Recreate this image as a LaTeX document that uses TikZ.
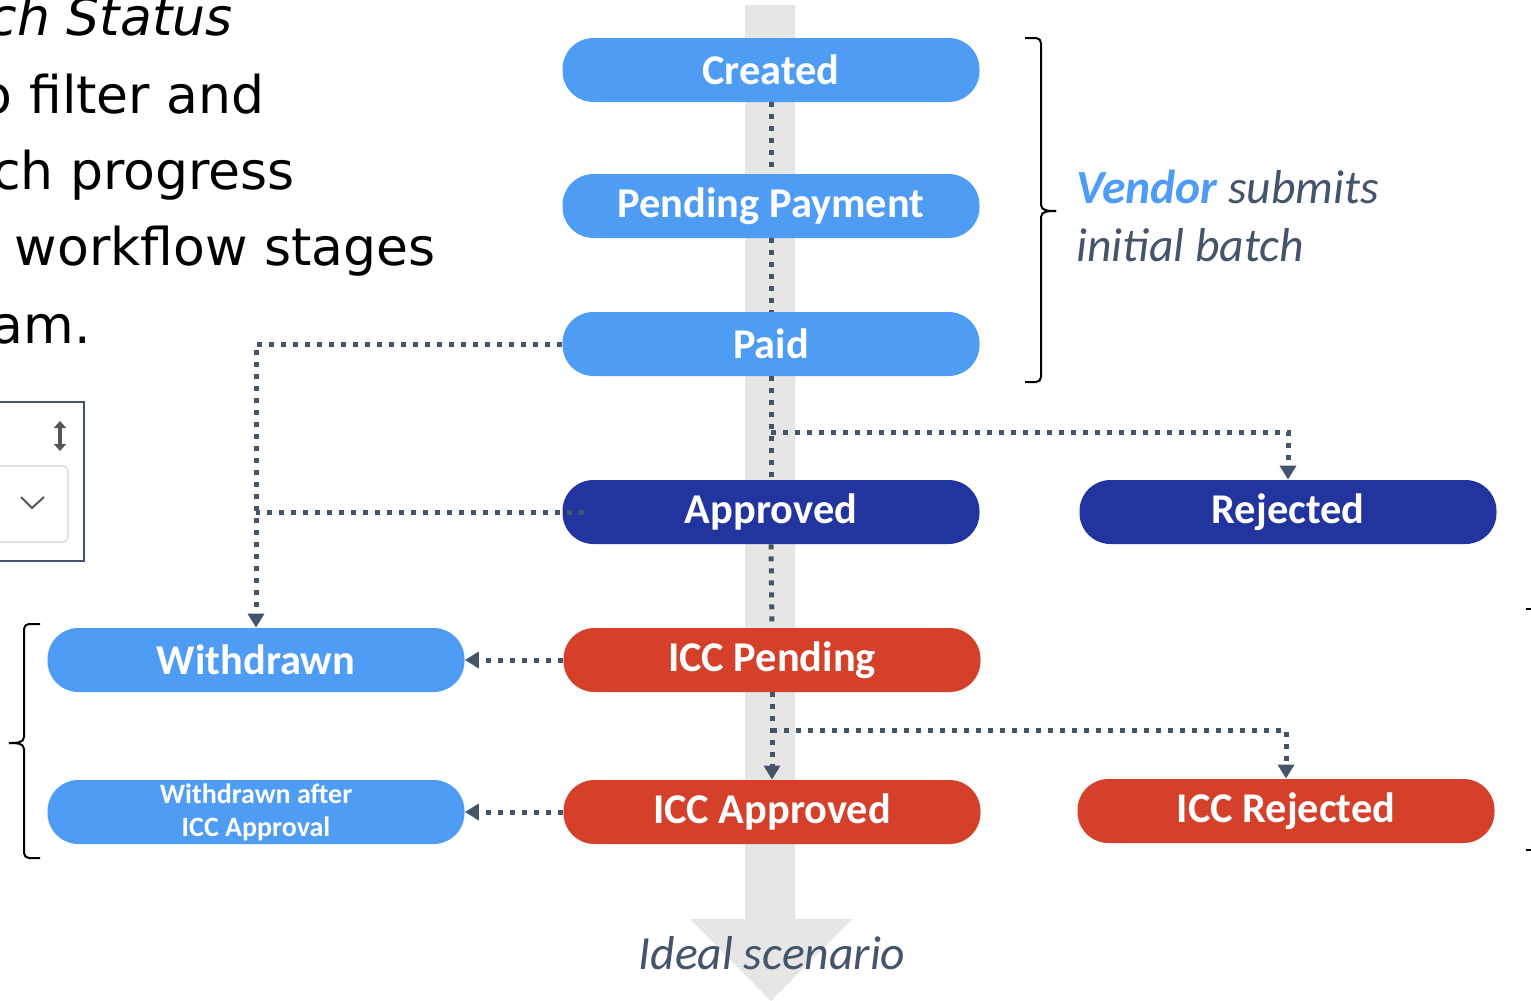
\documentclass[tikz,border=0pt]{standalone}
\usepackage{fontspec}
\newfontfamily\calfont{Carlito}
\newfontfamily\verfont{DejaVu Sans}
\usetikzlibrary{arrows.meta}
\definecolor{lblue}{HTML}{4F9CF5}
\definecolor{navy}{HTML}{22349E}
\definecolor{redbox}{HTML}{D5402B}
\definecolor{slate}{HTML}{44546A}
\definecolor{greyarr}{HTML}{E6E6E6}
\definecolor{iconcol}{HTML}{555555}
\definecolor{lightborder}{HTML}{E3E3E3}
\tikzset{
  stbox/.style={rounded corners=15.5pt, minimum width=208.5pt, minimum height=32pt, inner sep=0pt, text=white, font=\calfont\bfseries\fontsize{21.2}{24}\selectfont},
  dotln/.style={draw=slate, line width=2.5pt, dash pattern=on 2.5pt off 3.5pt},
  arr/.style={-{Triangle[length=7pt,width=8pt]}},
  brk/.style={draw=black, line width=1pt},
  lefttxt/.style={anchor=base east, inner sep=0pt, font=\verfont\fontsize{26}{30}\selectfont},
}
\begin{document}
\begin{tikzpicture}[x=0.5pt,y=-0.5pt]
\useasboundingbox (0,0) rectangle (1531,1001);
\clip (0,0) rectangle (1531,1001);
\fill[white] (0,0) rectangle (1531,1001);

% big grey arrow
\fill[greyarr] (745,5) -- (795,5) -- (795,919) -- (852,919) -- (771,1001) -- (690,919) -- (745,919) -- cycle;

% left text
\node[lefttxt] (t1) at (233,35) {\itshape ch Status};
\node[lefttxt] (t2) at (265,113) {o filter and};
\node[lefttxt] (t3) at (295,189) {ch progress};
\node[lefttxt] (t4) at (436,265) {workflow stages};
\node[lefttxt] (t5) at (91,343) {am.};

% dropdown widget
\draw[slate, line width=1pt] (-10,402) rectangle (84,561);
\draw[lightborder, line width=1pt, rounded corners=3pt] (-10,466) rectangle (68,542);
\draw[iconcol, line width=1pt] (21,497) -- (32,508) -- (44,497);
\draw[iconcol, line width=2pt, {Triangle[length=3.5pt,width=6pt]}-{Triangle[length=3.5pt,width=6pt]}] (60,421) -- (60,451);

% boxes
\node[stbox, fill=lblue] (created) at (771,70) {Created};
\node[stbox, fill=lblue] (pending) at (771,206) {Pending Payment};
\node[stbox, fill=lblue] (paid) at (771,344) {Paid};
\node[stbox, fill=navy] (approved) at (771,512) {Approved};
\node[stbox, fill=navy] (rejected) at (1288,512) {Rejected};
\node[stbox, fill=redbox] (iccpending) at (772,660) {ICC Pending};
\node[stbox, fill=redbox] (iccapproved) at (772,812) {ICC Approved};
\node[stbox, fill=redbox] (iccrejected) at (1286,811) {ICC Rejected};
\node[stbox, fill=lblue] (withdrawn) at (256,660) {Withdrawn};
\node[stbox, fill=lblue, align=center, font=\calfont\bfseries\fontsize{14}{16.5}\selectfont] (withdrawnafter) at (256,812) {Withdrawn after\\ICC Approval};

% connectors
\draw[dotln] (created.south) -- (pending.north);
\draw[dotln] (pending.south) -- (paid.north);
\draw[dotln] (paid.south) -- (approved.north);
\draw[dotln] (approved.south) -- (iccpending.north);
\draw[dotln, arr] (iccpending.south) -- (iccapproved.north);
\coordinate (b1) at (771,432);
\draw[dotln, arr] (b1) -| (rejected.north);
\coordinate (b2) at (772,730);
\draw[dotln, arr] (b2) -| (iccrejected.north);
\draw[dotln, arr] (paid.west) -| (withdrawn.north);
\coordinate (j1) at (256,512);
\draw[dotln] ([xshift=11pt]approved.west) -- (j1);
\draw[dotln, arr] (iccpending.west) -- (withdrawn.east);
\draw[dotln, arr] (iccapproved.west) -- (withdrawnafter.east);

% brackets
\draw[brk] (1025,38) -- (1036,38) to[out=0,in=90] (1041,43) -- (1041,205) to[out=-90,in=180] (1056,211);
\draw[brk] (1056,211) to[out=180,in=90] (1041,217) -- (1041,377) to[out=-90,in=0] (1036,382) -- (1025,382);
\draw[brk] (40,624) -- (29,624) to[out=180,in=90] (24,629) -- (24,737) to[out=-90,in=0] (9,743);
\draw[brk] (9,743) to[out=0,in=90] (24,749) -- (24,853) to[out=-90,in=180] (29,858) -- (40,858);
\draw[brk] (1526,609) -- (1531,609);
\draw[brk] (1526,850) -- (1531,850);

% annotations
\node[anchor=base west, inner sep=0pt, font=\calfont\itshape\fontsize{23.8}{27}\selectfont, text=slate] (vendor) at (1076,203) {\textcolor{lblue}{\bfseries Vendor} submits};
\node[anchor=base west, inner sep=0pt, font=\calfont\itshape\fontsize{23.8}{27}\selectfont, text=slate] (initial) at (1076,261) {initial batch};
\node[anchor=base, inner sep=0pt, font=\calfont\itshape\fontsize{23.8}{27}\selectfont, text=slate] (ideal) at (772,969) {Ideal scenario};
\end{tikzpicture}
\end{document}
